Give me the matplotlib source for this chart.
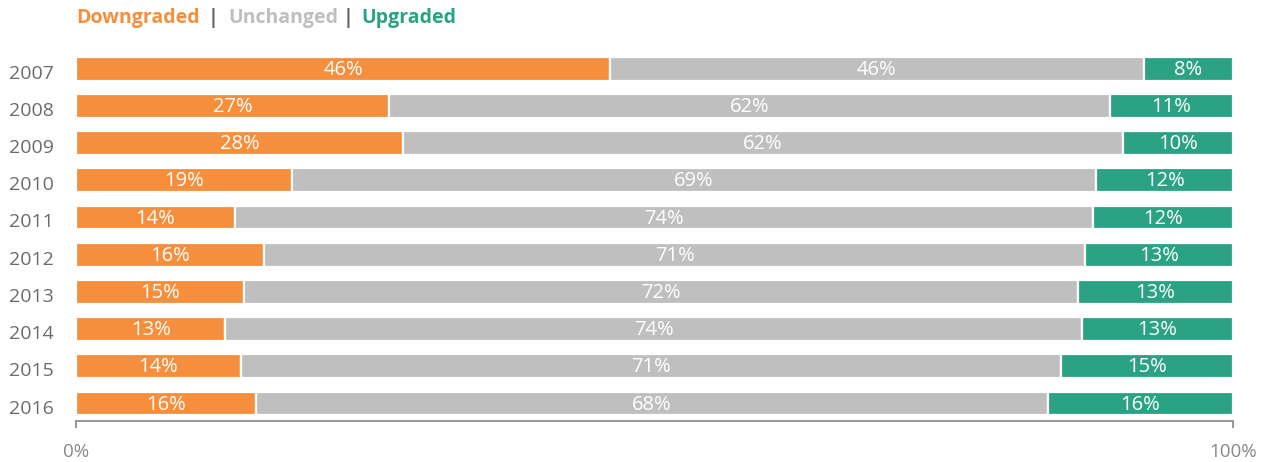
import matplotlib.pyplot as plt
import matplotlib.transforms as mtransforms
import numpy as np

plt.rcParams['font.family'] = ['Open Sans', 'DejaVu Sans']

years = ['2007', '2008', '2009', '2010', '2011', '2012', '2013', '2014', '2015', '2016']
downgraded = [0.4615, 0.2705, 0.2826, 0.1867, 0.137, 0.1625, 0.145, 0.129, 0.1426, 0.156]
unchanged = [0.4615, 0.623, 0.622, 0.695, 0.742, 0.7096, 0.721, 0.7405, 0.709, 0.684]
upgraded = [0.077, 0.1065, 0.0954, 0.1183, 0.121, 0.1279, 0.134, 0.1305, 0.1484, 0.16]
down_labels = ['46%', '27%', '28%', '19%', '14%', '16%', '15%', '13%', '14%', '16%']
unch_labels = ['46%', '62%', '62%', '69%', '74%', '71%', '72%', '74%', '71%', '68%']
up_labels = ['8%', '11%', '10%', '12%', '12%', '13%', '13%', '13%', '15%', '16%']

c_down = '#F58E3D'
c_unch = '#BFBFBF'
c_up = '#2AA283'

fig = plt.figure(figsize=(12.7, 4.62), dpi=100)
ax = fig.add_axes([76 / 1270, 41 / 462, (1233 - 76) / 1270, 371 / 462])

y = np.arange(len(years))
down = np.array(downgraded)
unch = np.array(unchanged)
up = np.array(upgraded)
tot = down + unch + up
down, unch, up = down / tot, unch / tot, up / tot

h = 0.64
segs = [(down, np.zeros_like(down), c_down, down_labels),
        (unch, down, c_unch, unch_labels),
        (up, down + unch, c_up, up_labels)]
for vals, left, col, labs in segs:
    ax.barh(y, vals, left=left, height=h, color=col, edgecolor='white', linewidth=1.6)
    for i in range(len(years)):
        ax.text(left[i] + vals[i] / 2, y[i] + 0.03, labs[i], ha='center', va='center',
                color='white', fontsize=14.5)

ax.set_xlim(0, 1)
ax.set_ylim(9.47, -0.5)
ax.set_yticks(y)
ax.set_yticklabels(years, fontsize=14, color='#6b6b6b')
ax.tick_params(axis='y', length=0, pad=16)
# nudge year labels down a bit
shift = mtransforms.ScaledTranslation(0, -3 / 100, fig.dpi_scale_trans)
for lab in ax.get_yticklabels():
    lab.set_transform(lab.get_transform() + shift)
ax.set_xticks([0, 1])
ax.set_xticklabels(['0%', '100%'], fontsize=13.5, color='#888888')
ax.tick_params(axis='x', direction='out', length=5, width=1.5, color='#999999', pad=11)
for s in ['top', 'right', 'left']:
    ax.spines[s].set_visible(False)
ax.spines['bottom'].set_color('#999999')
ax.spines['bottom'].set_linewidth(1.5)

# legend-like header
ty = 1 - 18 / 462
fig.text(76 / 1270, ty, 'Downgraded', color=c_down, fontsize=14, fontweight='bold', va='center')
fig.text(208 / 1270, ty, '|', color='#666666', fontsize=14, fontweight='bold', va='center')
fig.text(228 / 1270, ty, 'Unchanged', color=c_unch, fontsize=14, fontweight='bold', va='center')
fig.text(343 / 1270, ty, '|', color='#666666', fontsize=14, fontweight='bold', va='center')
fig.text(361 / 1270, ty, 'Upgraded', color=c_up, fontsize=14, fontweight='bold', va='center')

fig.savefig('out.png', dpi=100)
